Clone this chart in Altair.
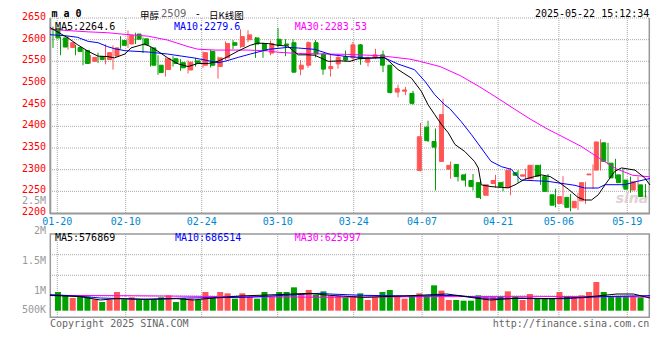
import altair as alt
import pandas as pd

# ---------------- data ----------------
opens = [2626, 2604, 2582, 2582, 2575, 2550, 2561, 2554, 2562, 2598,
         2590, 2613, 2602, 2581, 2541, 2531, 2556, 2547, 2530, 2551,
         2541, 2573, 2538, 2558, 2593, 2584, 2600, 2604, 2591, 2569,
         2601, 2590, 2593, 2532, 2541, 2593, 2567, 2533, 2544, 2561,
         2558, 2588, 2548, 2559, 2565, 2541, 2479, 2481, 2476, 2298,
         2398, 2365, 2319, 2301, 2312, 2288, 2275, 2270, 2241, 2268,
         2270, 2259, 2293, 2285, 2279, 2310, 2284, 2242, 2222, 2236,
         2212, 2228, 2288, 2299, 2362, 2315, 2288, 2276, 2253, 2265]
highs = [2630, 2606, 2608, 2588, 2578, 2565, 2570, 2589, 2587, 2608,
         2621, 2616, 2605, 2584, 2564, 2559, 2562, 2555, 2552, 2558,
         2573, 2576, 2561, 2596, 2599, 2624, 2622, 2606, 2593, 2598,
         2627, 2601, 2601, 2553, 2596, 2599, 2568, 2567, 2567, 2575,
         2595, 2590, 2561, 2579, 2575, 2542, 2496, 2491, 2482, 2408,
         2413, 2395, 2464, 2319, 2313, 2291, 2290, 2275, 2267, 2288,
         2273, 2304, 2299, 2302, 2312, 2312, 2290, 2256, 2285, 2244,
         2247, 2272, 2312, 2370, 2362, 2325, 2302, 2284, 2284, 2267]
lows = [2581, 2564, 2577, 2564, 2541, 2545, 2546, 2543, 2531, 2579,
        2581, 2590, 2569, 2538, 2519, 2515, 2538, 2528, 2522, 2538,
        2535, 2536, 2510, 2553, 2578, 2581, 2594, 2558, 2558, 2564,
        2582, 2562, 2524, 2518, 2535, 2559, 2519, 2515, 2533, 2550,
        2550, 2542, 2538, 2555, 2525, 2476, 2467, 2472, 2450, 2296,
        2364, 2252, 2319, 2279, 2273, 2261, 2252, 2232, 2239, 2258,
        2250, 2241, 2270, 2278, 2278, 2265, 2248, 2213, 2219, 2204,
        2207, 2221, 2256, 2298, 2312, 2279, 2259, 2247, 2250, 2236]
closes = [2604, 2583, 2593, 2573, 2545, 2559, 2554, 2570, 2581, 2587,
          2610, 2601, 2588, 2541, 2524, 2556, 2545, 2535, 2548, 2545,
          2570, 2541, 2558, 2591, 2587, 2607, 2611, 2590, 2575, 2591,
          2587, 2587, 2525, 2541, 2593, 2567, 2532, 2538, 2559, 2553,
          2588, 2556, 2558, 2565, 2541, 2478, 2487, 2484, 2453, 2376,
          2367, 2352, 2427, 2310, 2284, 2276, 2261, 2236, 2265, 2275,
          2261, 2299, 2287, 2288, 2310, 2285, 2250, 2218, 2238, 2213,
          2227, 2270, 2290, 2364, 2319, 2281, 2270, 2255, 2272, 2238]
volumes_k = [850, 698, 577, 638, 638, 517, 395, 486, 850, 517,
             608, 517, 517, 517, 608, 698, 395, 577, 547, 486,
             850, 577, 850, 789, 547, 789, 638, 547, 850, 638,
             850, 850, 1062, 789, 941, 729, 880, 668, 668, 608,
             668, 789, 486, 608, 850, 941, 668, 547, 668, 789,
             668, 1153, 911, 486, 486, 456, 456, 698, 608, 608,
             638, 880, 638, 486, 759, 547, 547, 547, 850, 668,
             608, 698, 850, 1305, 850, 668, 668, 668, 668, 608]

# moving-average lines (position in trading-day index, value)
ma5_x = [-0.4, 1.1, 2.0, 3.3, 4.7, 6.0, 7.3, 8.2, 9.6, 10.4, 12.2, 13.0, 14.0, 15.3, 16.7,
         18.0, 19.3, 20.7, 22.0, 23.3, 24.7, 26.3, 27.3, 28.7, 30.0, 31.3, 32.7, 34.0, 34.9,
         36.7, 38.4, 39.6, 40.7, 42.9, 44.2, 44.7, 46.0, 47.8, 49.1, 50.0, 50.9, 51.8, 52.7,
         53.6, 54.9, 56.2, 56.7, 57.1, 58.4, 59.8, 60.7, 61.6, 62.9, 64.2, 65.1, 66.3, 67.3,
         68.7, 70.0, 70.9, 71.8, 72.7, 73.6, 74.9, 75.8, 77.6, 78.9, 79.6]
ma5_v = [2628, 2613, 2604, 2588, 2573, 2562, 2561, 2558, 2567, 2581, 2590, 2584, 2573, 2558, 2544,
         2538, 2545, 2545, 2550, 2561, 2574, 2587, 2592, 2591, 2587, 2585, 2565, 2565, 2564,
         2550, 2551, 2550, 2556, 2558, 2559, 2552, 2531, 2511, 2481, 2450, 2427, 2404, 2385,
         2358, 2342, 2319, 2304, 2265, 2261, 2259, 2258, 2265, 2278, 2284, 2288, 2284, 2273,
         2255, 2236, 2230, 2230, 2242, 2265, 2296, 2304, 2299, 2281, 2264.6]
ma10_x = [-0.4, 2.0, 3.3, 4.7, 6.0, 7.3, 8.2, 9.6, 12.7, 15.3, 17.1, 18.9, 21.1, 22.0, 22.9,
          24.7, 26.3, 28.7, 31.3, 32.7, 34.9, 37.1, 39.3, 42.0, 44.2, 46.0, 48.2, 49.6, 50.9,
          52.2, 52.9, 54.4, 55.8, 57.1, 58.4, 59.8, 61.1, 62.4, 64.2, 66.0, 69.6, 70.9, 72.7,
          73.6, 76.2, 77.9, 79.6]
ma10_v = [2611.5, 2608.4, 2605.3, 2596, 2593, 2583.8, 2579.2, 2574.5, 2571.5, 2566.8, 2562.2,
          2557.6, 2550, 2546.8, 2550, 2559.2, 2566.8, 2577.6, 2582.2, 2580.7, 2577.6, 2565.3,
          2561, 2557.6, 2558, 2543.8, 2530.7, 2503.8, 2473, 2450, 2441, 2411.5, 2380.7, 2350,
          2319.2, 2306.9, 2300.7, 2276.1, 2274.5, 2273, 2263.8, 2257.6, 2257.6, 2265.3, 2265.3,
          2273, 2279.6]
ma30_x = [-0.4, 2.0, 4.7, 7.3, 9.1, 12.7, 15.3, 18.0, 19.3, 21.6, 26.0, 28.7, 30.0, 32.7, 39.3,
          43.6, 47.6, 48.9, 51.6, 54.3, 56.9, 59.6, 61.6, 63.6, 66.0, 67.6, 70.4, 72.7, 75.1,
          77.3, 79.6]
ma30_v = [2624, 2621, 2618, 2616, 2613, 2608, 2599, 2584, 2578, 2576, 2576, 2574, 2571, 2568,
          2566, 2563, 2555, 2550, 2538, 2517, 2491, 2461.5, 2439, 2417, 2393, 2379, 2354, 2328,
          2302, 2287, 2283.5]

vma5_x = [-0.4, 3.6, 6.3, 8.5, 12.9, 16.5, 18.7, 21.4, 24.9, 29.8, 34.3, 36.9, 41.4, 46.7,
          52.5, 55.6, 58.3, 62.3, 66.3, 70.7, 72.5, 75.2, 77.4, 79.6]
vma5_v = [698, 638, 486, 547, 517, 547, 486, 577, 668, 729, 789, 698, 608, 668,
          759, 608, 486, 577, 547, 608, 668, 759, 759, 577]
vma10_x = [-0.4, 3.2, 6.3, 12.0, 17.8, 25.8, 30.7, 35.6, 36.9, 41.4, 48.1, 53.9, 57.0, 64.6,
           68.1, 73.0, 79.6]
vma10_v = [729, 668, 577, 517, 577, 608, 698, 789, 759, 698, 668, 698, 577, 547, 547, 638, 686]
vma30_x = [-0.4, 10.7, 24.0, 36.9, 50.3, 63.6, 79.6]
vma30_v = [698, 680, 638, 608, 638, 653, 626]

# axis ticks / labels
price_ticks = [2200, 2250, 2300, 2350, 2400, 2450, 2500, 2550, 2600, 2650]
date_labels = ["01-20", "02-10", "02-24", "03-10", "03-24", "04-07", "04-21", "05-06", "05-19"]
date_day_idx = [1, 10, 20, 30, 40, 49, 59, 67, 76]   # trading-day number of each labelled date
vol_labels = ["2.5M", "2M", "1.5M", "1M", "500K"]

# ---------------- styling ----------------
RED, GREEN = "#FF5555", "#00A000"
GRID = "#A8A8A8"
FRAME = "#999999"
MONO = "DejaVu Sans Mono"
CJK = "Noto Sans CJK SC"
W, H = 600, 300

df = pd.DataFrame({"i": list(range(len(opens))), "open": opens, "high": highs,
                   "low": lows, "close": closes, "vol": volumes_k})
df["dir"] = ["up" if c >= o else "down" for o, c in zip(opens, closes)]
df["vbase"] = 0

xs = alt.Scale(domain=[-0.4, 79.6], nice=False, zero=False)
# the date grid of this chart advances 7.6 px per day, the candles 7.5 px
ds = alt.Scale(domain=[0.0395, 78.99], nice=False, zero=False)
ys = alt.Scale(domain=[2200, 2650], range=[195, 0], nice=False, zero=False)
vs = alt.Scale(domain=[0, 1000], range=[292.7, 270.7], nice=False, zero=False)
col = alt.Color("dir:N", scale=alt.Scale(domain=["up", "down"], range=[RED, GREEN]), legend=None)

one = pd.DataFrame({"a": [0]})


def txt(s, x, y, color, size=10, align="left", font=MONO, weight="normal", style="normal", opacity=1.0):
    return alt.Chart(pd.DataFrame({"s": [s]})).mark_text(
        align=align, baseline="middle", color=color, fontSize=size, font=font,
        fontWeight=weight, fontStyle=style, opacity=opacity
    ).encode(x=alt.value(x), y=alt.value(y), text="s:N")


layers = []

# price grid (dotted)
pg = pd.DataFrame({"p": price_ticks[1:]})
layers.append(alt.Chart(pg).mark_rule(color=GRID, strokeDash=[1, 1], strokeWidth=1).encode(
    y=alt.Y("p:Q", scale=ys, axis=None), x=alt.value(0), x2=alt.value(W)))
# date grid in both panels
dg = pd.DataFrame({"k": date_day_idx, "lab": date_labels})
layers.append(alt.Chart(dg).mark_rule(color=GRID, strokeDash=[1, 1], strokeWidth=1).encode(
    x=alt.X("k:Q", scale=ds, axis=None), y=alt.value(0), y2=alt.value(195)))
layers.append(alt.Chart(dg).mark_rule(color=GRID, strokeDash=[1, 1], strokeWidth=1).encode(
    x=alt.X("k:Q", scale=ds, axis=None), y=alt.value(216), y2=alt.value(299.3)))
# volume panel horizontal grid
for yy in (236.7, 257.3, 278):
    layers.append(alt.Chart(one).mark_rule(color=GRID, strokeDash=[1, 1], strokeWidth=1).encode(
        x=alt.value(0), x2=alt.value(W), y=alt.value(yy)))

# frames
layers.append(alt.Chart(one).mark_rule(color=FRAME, strokeWidth=2).encode(
    x=alt.value(0.3), y=alt.value(0), y2=alt.value(196)))
layers.append(alt.Chart(one).mark_rule(color=FRAME, strokeWidth=2).encode(
    x=alt.value(0), x2=alt.value(W), y=alt.value(195.5)))
layers.append(alt.Chart(one).mark_rule(color=FRAME, strokeWidth=1.5).encode(
    x=alt.value(599.3), y=alt.value(0), y2=alt.value(196)))
layers.append(alt.Chart(one).mark_rect(fillOpacity=0, stroke=FRAME, strokeWidth=1.5).encode(
    x=alt.value(0.3), x2=alt.value(599.3), y=alt.value(216), y2=alt.value(299.3)))

# watermark
layers.append(txt("sina", 582, 181, "#D9C8C8", size=14, align="center", font="DejaVu Sans",
                  weight="bold", style="italic", opacity=0.8))

# volume bars + MA
layers.append(alt.Chart(df).mark_bar(size=6).encode(
    x=alt.X("i:Q", scale=xs, axis=None), y=alt.Y("vol:Q", scale=vs, axis=None),
    y2="vbase:Q", color=col))
for xx, vv, c in ((vma30_x, vma30_v, "#FF00FF"), (vma10_x, vma10_v, "#0000FF"), (vma5_x, vma5_v, "#000000")):
    layers.append(alt.Chart(pd.DataFrame({"x": xx, "v": vv})).mark_line(color=c, strokeWidth=1).encode(
        x=alt.X("x:Q", scale=xs, axis=None), y=alt.Y("v:Q", scale=vs, axis=None)))

# candles
layers.append(alt.Chart(df).mark_rule(strokeWidth=1).encode(
    x=alt.X("i:Q", scale=xs, axis=None), y=alt.Y("low:Q", scale=ys, axis=None), y2="high:Q", color=col))
layers.append(alt.Chart(df).mark_bar(size=4, strokeWidth=1).encode(
    x=alt.X("i:Q", scale=xs, axis=None), y=alt.Y("open:Q", scale=ys, axis=None), y2="close:Q",
    color=col, stroke=alt.Stroke("dir:N", scale=alt.Scale(domain=["up", "down"], range=[RED, GREEN]), legend=None)))

# price MA lines
for xx, vv, c in ((ma30_x, ma30_v, "#FF00FF"), (ma10_x, ma10_v, "#0000FF"), (ma5_x, ma5_v, "#000000")):
    layers.append(alt.Chart(pd.DataFrame({"x": xx, "v": vv})).mark_line(color=c, strokeWidth=1).encode(
        x=alt.X("x:Q", scale=xs, axis=None), y=alt.Y("v:Q", scale=ys, axis=None)))

# axis labels
pl = pd.DataFrame({"p": price_ticks, "t": [str(p) for p in price_ticks]})
layers.append(alt.Chart(pl).mark_text(align="right", baseline="middle", dy=-1, color="#FF0000",
                                      font=MONO, fontSize=10).encode(
    x=alt.value(-4), y=alt.Y("p:Q", scale=ys, axis=None), text="t:N"))
layers.append(alt.Chart(dg).mark_text(align="center", baseline="middle", color="#0088CC",
                                      font=MONO, fontSize=10).encode(
    x=alt.X("k:Q", scale=ds, axis=None), y=alt.value(203.7), text="lab:N"))
for lab, yy in zip(vol_labels, (182.7, 212.7, 242.7, 272.7, 292)):
    layers.append(txt(lab, -4, yy, "#999999", align="right"))

# headers and legends
HY = -4        # latin header texts
CY = -2.3      # CJK header texts (taller font box)
LY = 9         # MA legend row of the price panel
layers.append(txt("m a 0", 1.5, HY, "#000000", size=10, weight="bold"))
layers.append(txt("甲醇", 90, CY, "#000000", size=9.5, font=CJK))
layers.append(txt("2509", 111, HY, "#666666", size=10, font="DejaVu Sans"))
layers.append(txt("-", 146, HY, "#000000", size=10, font="DejaVu Sans"))
layers.append(txt("日K线图", 159, CY, "#000000", size=9.5, font=CJK))
layers.append(txt("2025-05-22 15:12:34", 599.3, HY, "#000000", align="right"))
layers.append(txt("MA5:2264.6", 5, LY, "#000000"))
layers.append(txt("MA10:2279.6", 124, LY, "#0000FF"))
layers.append(txt("MA30:2283.53", 244.7, LY, "#FF00FF"))
layers.append(txt("MA5:576869", 5, 219.8, "#000000"))
layers.append(txt("MA10:686514", 125, 219.8, "#0000FF"))
layers.append(txt("MA30:625997", 244.7, 219.8, "#FF00FF"))
layers.append(txt("Copyright 2025 SINA.COM", 0, 305.7, "#666666"))
layers.append(txt("http://finance.sina.com.cn", 599.3, 305.7, "#666666", align="right"))

chart = alt.layer(*layers).properties(
    width=W, height=H,
    autosize=alt.AutoSizeParams(type="none"),
    padding={"left": 42, "top": 10, "right": 2, "bottom": 16},
).resolve_scale(x="independent", y="independent").configure_view(stroke=None)

chart.save("out.html", embed_options={"renderer": "svg", "actions": False})
